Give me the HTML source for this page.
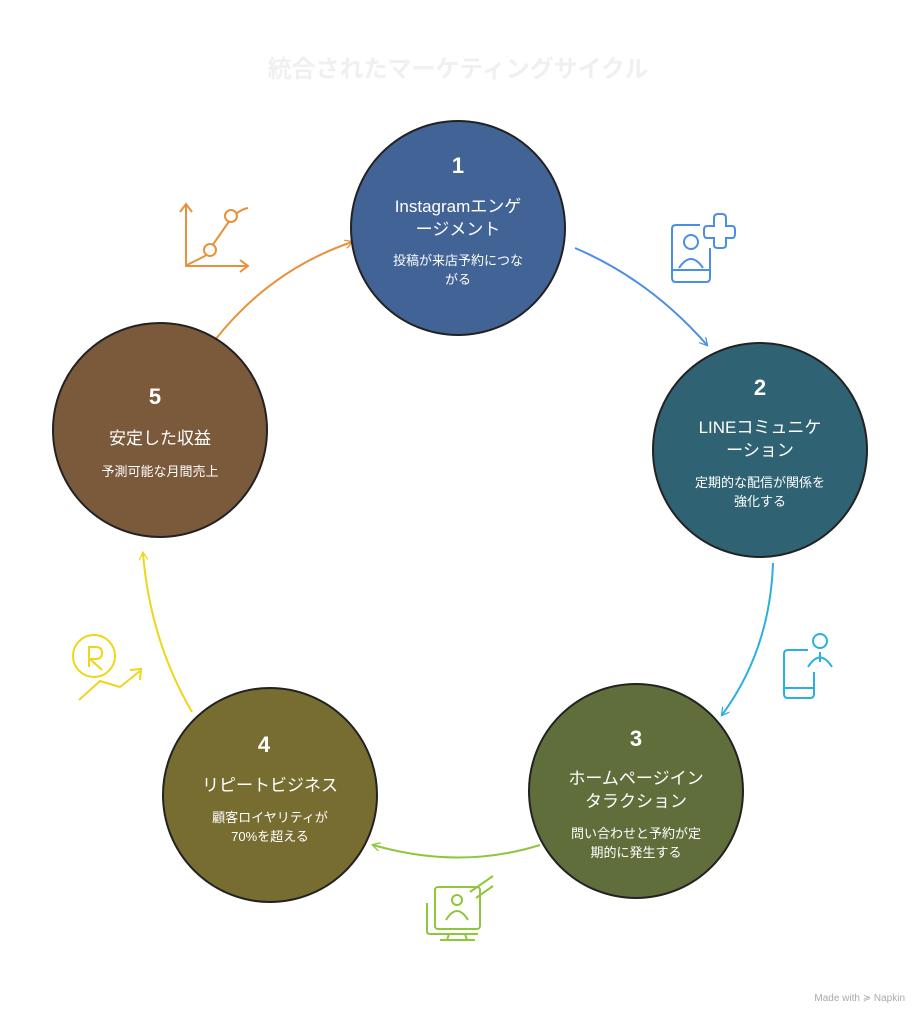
<!DOCTYPE html>
<html><head><meta charset="utf-8"><style>
html,body{margin:0;padding:0;background:#fff;}
svg{display:block;font-family:"Liberation Sans","Noto Sans CJK JP",sans-serif;}
</style></head><body>
<svg width="917" height="1024" viewBox="0 0 917 1024" xmlns="http://www.w3.org/2000/svg">
<defs>
<marker id="m" viewBox="0 0 10 10" refX="8" refY="5" markerWidth="9" markerHeight="9" orient="auto" markerUnits="userSpaceOnUse"><path d="M0,0 L9,5 L0,10" fill="none" stroke="context-stroke" stroke-width="1.4"/></marker>
</defs>
<text x="458" y="77" text-anchor="middle" font-size="24" font-weight="bold" fill="#f0f0f0">統合されたマーケティングサイクル</text>

<path d="M215,340 Q270,270 352,242" fill="none" stroke="#e8913a" stroke-width="2" marker-end="url(#m)"/>
<path d="M575,248 Q650,280 707,345" fill="none" stroke="#4a8ee8" stroke-width="2" marker-end="url(#m)"/>
<path d="M773,563 Q770,650 722,715" fill="none" stroke="#2ab0e0" stroke-width="2" marker-end="url(#m)"/>
<path d="M540,845 Q460,870 373,845" fill="none" stroke="#8fc63c" stroke-width="2" marker-end="url(#m)"/>
<path d="M192,712 Q150,640 143,553" fill="none" stroke="#f0d51a" stroke-width="2" marker-end="url(#m)"/>

<g stroke="#222" stroke-width="2">
<circle cx="458" cy="228" r="107" fill="#426395"/>
<circle cx="760" cy="450" r="107" fill="#2f6373"/>
<circle cx="636" cy="791" r="107" fill="#5f6e3b"/>
<circle cx="270" cy="795" r="107" fill="#786d31"/>
<circle cx="160" cy="430" r="107" fill="#7b5a3b"/>
</g>

<g fill="#fff" text-anchor="middle">
<text x="458" y="173" font-size="22" font-weight="bold">1</text>
<text x="458" y="212" font-size="17">Instagramエンゲ</text>
<text x="458" y="235" font-size="17">ージメント</text>
<text x="458" y="265" font-size="13">投稿が来店予約につな</text>
<text x="458" y="284" font-size="13">がる</text>

<text x="760" y="395" font-size="22" font-weight="bold">2</text>
<text x="760" y="433" font-size="17">LINEコミュニケ</text>
<text x="760" y="456" font-size="17">ーション</text>
<text x="760" y="487" font-size="13">定期的な配信が関係を</text>
<text x="760" y="506" font-size="13">強化する</text>

<text x="636" y="746" font-size="22" font-weight="bold">3</text>
<text x="636" y="784" font-size="17">ホームページイン</text>
<text x="636" y="807" font-size="17">タラクション</text>
<text x="636" y="838" font-size="13">問い合わせと予約が定</text>
<text x="636" y="857" font-size="13">期的に発生する</text>

<text x="264" y="752" font-size="22" font-weight="bold">4</text>
<text x="270" y="791" font-size="17">リピートビジネス</text>
<text x="270" y="822" font-size="13">顧客ロイヤリティが</text>
<text x="270" y="841" font-size="13">70%を超える</text>

<text x="155" y="404" font-size="22" font-weight="bold">5</text>
<text x="160" y="444" font-size="17">安定した収益</text>
<text x="160" y="476" font-size="13">予測可能な月間売上</text>
</g>

<g fill="none" stroke="#e8913a" stroke-width="2">
<path d="M186,205 V266 H247 M180,212 L186,204 L192,212 M240,260 L248,266 L240,272"/>
<path d="M187,265 L205,256 L230,220 Q238,210 248,208"/>
<circle cx="210" cy="250" r="6" fill="#fff"/><circle cx="231" cy="216" r="6" fill="#fff"/>
</g>
<g fill="none" stroke="#4a8ee8" stroke-width="2">
<path d="M700,225 H676 Q672,225 672,229 V278 Q672,282 676,282 H706 Q710,282 710,278 V248"/>
<path d="M672,270 H710"/>
<circle cx="691" cy="242" r="7"/><path d="M679,268 Q691,250 703,268"/>
<path d="M707,226 H714 V218 Q714,214 718,214 H722 Q726,214 726,218 V226 H732 Q735,226 735,230 V234 Q735,238 732,238 H726 V245 Q726,248 722,248 H718 Q714,248 714,245 V238 H707 Q704,238 704,234 V230 Q704,226 707,226 Z"/>
</g>
<g fill="none" stroke="#2ab0e0" stroke-width="2">
<path d="M808,650 H788 Q784,650 784,654 V694 Q784,698 788,698 H810 Q814,698 814,694 V672 M784,688 H814"/>
<circle cx="820" cy="641" r="7"/><path d="M808,667 Q820,648 832,667 M820,652 V662"/>
</g>
<g fill="none" stroke="#8fc63c" stroke-width="2">
<rect x="435" y="887" width="45" height="42" rx="3"/>
<path d="M427,903 V931 Q427,934 430,934 H478 M449,934 L447,940 M465,934 L467,940 M440,940 H475"/>
<circle cx="457" cy="900" r="5"/><path d="M446,920 Q457,902 468,920"/>
<path d="M470,892 L493,876 M476,898 L493,886"/>
</g>
<g fill="none" stroke="#f0d51a" stroke-width="2">
<circle cx="94" cy="656" r="21"/>
<path d="M89,667 V647 H96 Q102,647 102,653 Q102,659 96,659 H90 L102,670"/>
<path d="M79,700 L100,681 L120,687 L140,671 M130,670 L141,669 L140,680"/>
</g>

<text x="905" y="1001" text-anchor="end" font-size="10" fill="#aaa">Made with ≽ Napkin</text>
</svg>
</body></html>
